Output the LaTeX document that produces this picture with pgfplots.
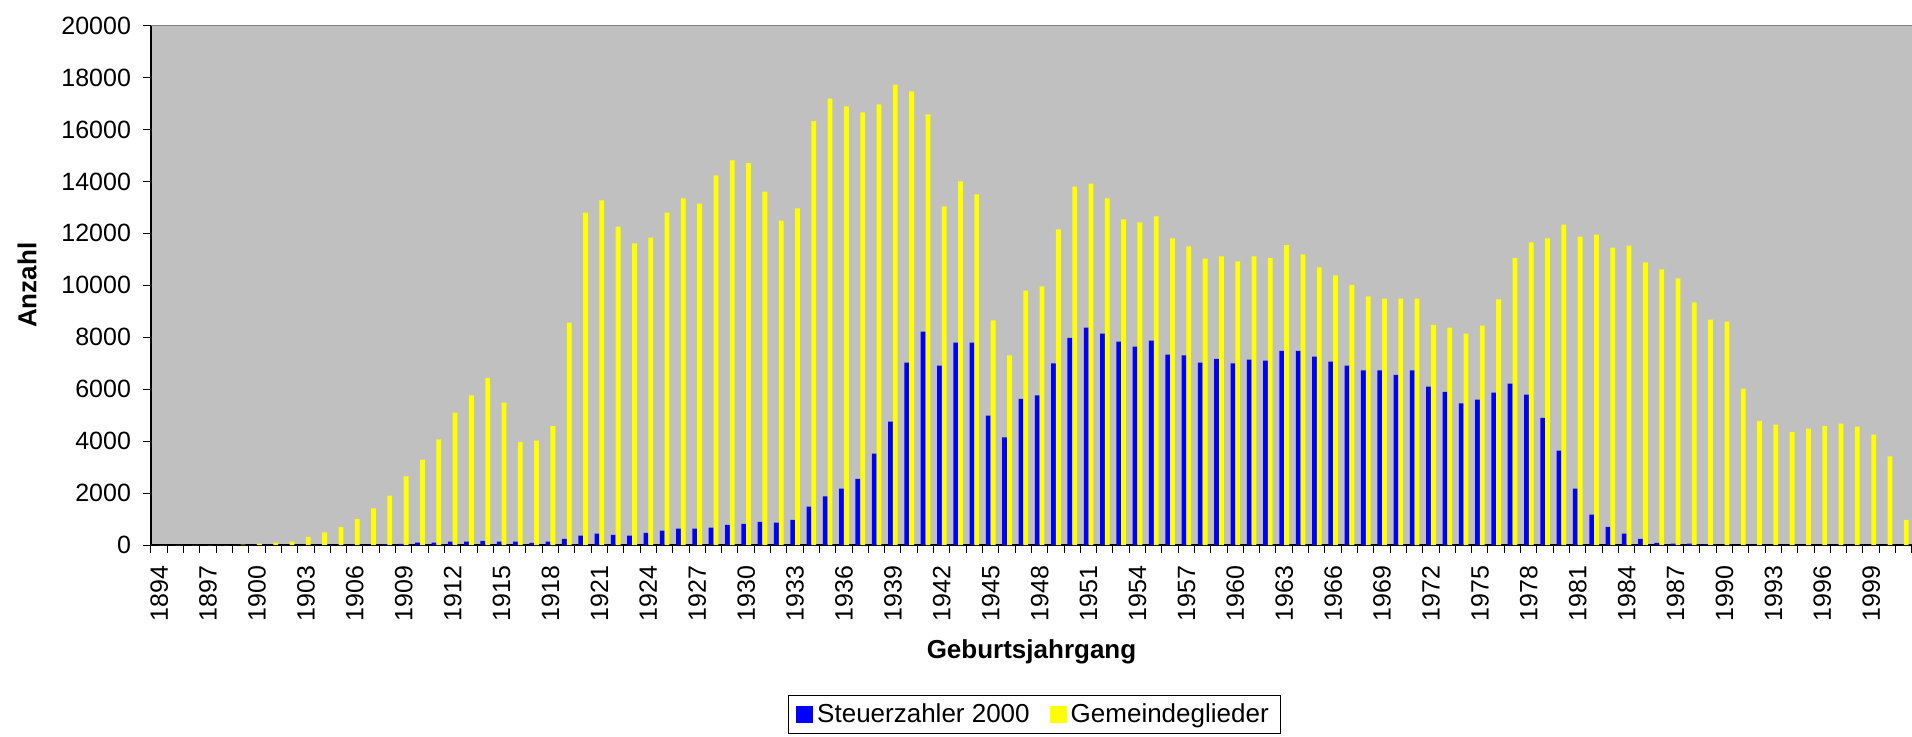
\documentclass[border=0pt]{standalone}
\usepackage{fontspec}
\setmainfont{Liberation Sans}
\usepackage{pgfplots}
\pgfplotsset{compat=1.18}
\usepackage{pgfplotstable}
\definecolor{bgray}{HTML}{C0C0C0}
\definecolor{sblue}{HTML}{0000FF}
\definecolor{gyellow}{HTML}{FFFF00}
\pgfplotstableread{
year S G
1894 0 0
1895 0 0
1896 0 0
1897 0 0
1898 0 0
1899 0 10
1900 0 50
1901 0 90
1902 0 130
1903 0 310
1904 0 490
1905 0 700
1906 10 1010
1907 10 1410
1908 20 1900
1909 40 2640
1910 90 3290
1911 90 4070
1912 130 5100
1913 130 5760
1914 160 6440
1915 130 5480
1916 130 3970
1917 80 4020
1918 130 4590
1919 240 8560
1920 360 12800
1921 440 13270
1922 390 12260
1923 360 11610
1924 470 11840
1925 550 12800
1926 630 13350
1927 630 13150
1928 670 14230
1929 780 14810
1930 810 14700
1931 890 13610
1932 860 12490
1933 970 12960
1934 1480 16320
1935 1870 17190
1936 2170 16890
1937 2550 16660
1938 3520 16970
1939 4750 17730
1940 7020 17470
1941 8220 16580
1942 6910 13040
1943 7790 14000
1944 7790 13500
1945 4980 8650
1946 4140 7300
1947 5630 9800
1948 5760 9960
1949 6990 12150
1950 7980 13800
1951 8370 13920
1952 8140 13350
1953 7830 12540
1954 7640 12420
1955 7870 12650
1956 7330 11810
1957 7300 11500
1958 7020 11030
1959 7170 11110
1960 6990 10920
1961 7140 11110
1962 7100 11060
1963 7480 11550
1964 7480 11190
1965 7250 10690
1966 7060 10380
1967 6910 10020
1968 6720 9570
1969 6720 9490
1970 6550 9490
1971 6720 9490
1972 6100 8480
1973 5900 8370
1974 5450 8140
1975 5600 8450
1976 5870 9460
1977 6210 11060
1978 5790 11650
1979 4900 11810
1980 3630 12340
1981 2170 11870
1982 1170 11950
1983 700 11450
1984 440 11530
1985 240 10880
1986 80 10610
1987 50 10270
1988 50 9340
1989 20 8680
1990 0 8600
1991 0 6020
1992 0 4780
1993 0 4640
1994 0 4360
1995 0 4480
1996 0 4590
1997 0 4670
1998 0 4560
1999 0 4250
2000 0 3410
2001 0 970
}\data
\begin{document}
\begin{tikzpicture}
\begin{axis}[
  at={(75.5pt,95.5pt)}, anchor=south west,
  scale only axis, width=880.5pt, height=259.7pt,
  xmin=1893.5, xmax=2001.5, ymin=0, ymax=20000,
  ybar=0pt, bar width=2.4pt,
  axis background/.style={fill=bgray},
  axis x line*=bottom, axis y line*=left,
  axis line style={black,-,line width=0.6pt},
  tick align=outside,
  tick style={black,line width=0.5pt},
  major tick length=4pt,
  xtick={1893.5,1894.5,...,2001.5},
  xticklabels={},
  extra x ticks={1894,1897,...,1999},
  extra x tick style={major tick length=0pt},
  ytick={0,2000,...,20000},
  scaled y ticks=false,
  /pgf/number format/1000 sep={},
  /pgf/number format/assume math mode=true,
  tick label style={font=\fontsize{12.5}{15}\selectfont},
  xticklabel style={rotate=90, anchor=east, xshift=-7pt},
  yticklabel style={xshift=-2.5pt},
  xlabel={Geburtsjahrgang},
  xlabel style={at={(axis description cs:0.5,0)}, anchor=center, yshift=-53.5pt, font=\fontsize{13}{15}\selectfont\bfseries},
  ylabel={Anzahl},
  ylabel style={at={(axis description cs:0,0.5)}, anchor=center, yshift=62pt, font=\fontsize{13}{15}\selectfont\bfseries},
  legend columns=2,
  legend style={at={(axis description cs:0.5017,0)}, anchor=center, yshift=-84.75pt,
    draw=black, fill=white, font=\fontsize{13}{15}\selectfont,
    inner xsep=4pt, inner ysep=2pt,
    /tikz/every even column/.append style={column sep=8pt}},
  legend image code/.code={\fill[#1] (0pt,-4.25pt) rectangle (8.5pt,4.25pt);},
  after end axis/.code={\draw[gray,line width=0.5pt] (rel axis cs:0,1) -- (rel axis cs:1,1) -- (rel axis cs:1,0);},
]
\addplot[fill=sblue, draw=none] table[x=year, y=S] {\data};
\addplot[fill=gyellow, draw=none] table[x=year, y=G] {\data};
\legend{Steuerzahler 2000, Gemeindeglieder}
\end{axis}
\pgfresetboundingbox
\path[use as bounding box] (0,0) rectangle (956pt,368pt);
\end{tikzpicture}
\end{document}
